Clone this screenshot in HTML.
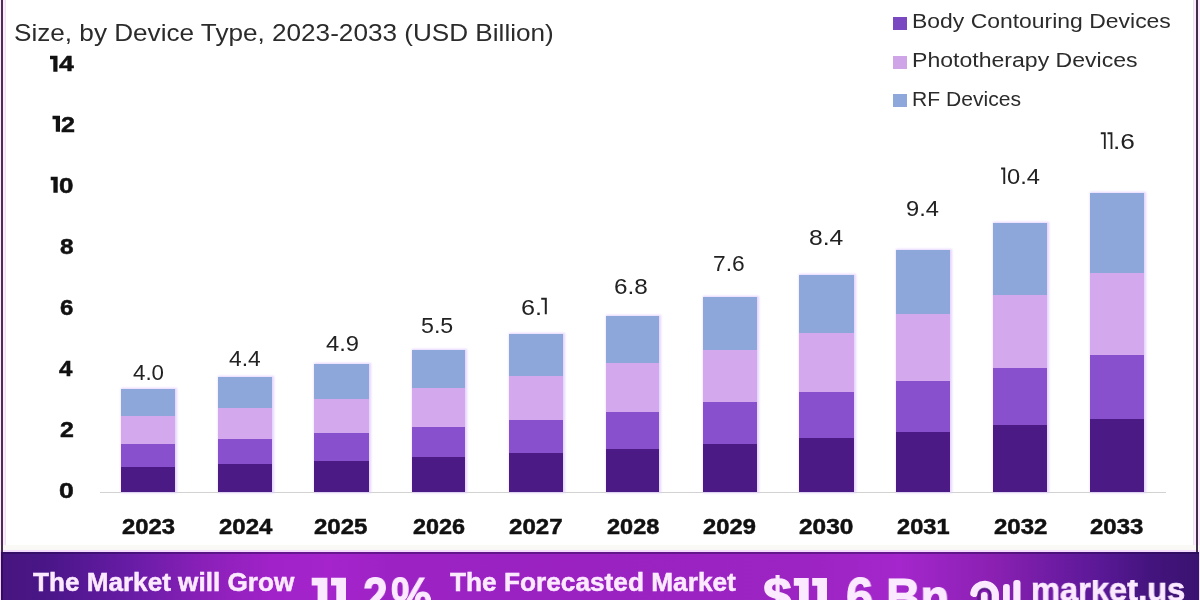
<!DOCTYPE html>
<html><head><meta charset="utf-8"><title>chart</title>
<style>
html,body{margin:0;padding:0;}
body{width:1200px;height:600px;overflow:hidden;background:#fff;position:relative;font-family:"Liberation Sans",sans-serif;}
.a{position:absolute;}
.bar{position:absolute;box-shadow:1px 0 2px 1px rgba(226,208,255,0.9);}
.tb{-webkit-text-stroke:0.5px currentColor;}
.t{position:absolute;white-space:nowrap;line-height:1;transform-origin:0 0;will-change:transform;}
.sw{position:absolute;width:14.2px;height:13.4px;left:893.2px;}
</style></head><body>
<div class="a" style="left:0;top:0;width:5px;height:552px;background:#fdeaff;"></div>
<div class="a" style="left:5px;top:0;width:1px;height:550px;background:#ebe4ec;"></div>
<div class="a" style="left:1194px;top:0;width:6px;height:552px;background:#fdeaff;"></div>
<div class="a" style="left:1193px;top:0;width:1px;height:550px;background:#ebe4ec;"></div>
<div class="a" style="left:0;top:545px;width:1200px;height:5px;background:#fbf9f6;"></div>
<div class="a" style="left:0;top:550px;width:1200px;height:2px;background:#f5dcff;"></div>
<div class="a" style="left:1px;top:0;width:2px;height:552px;background:#4a3052;"></div>
<div class="a" style="left:1196px;top:0;width:2px;height:552px;background:#40304a;"></div>
<div class="a" style="left:100px;top:491.5px;width:1066px;height:1.6px;background:#d2d2d2;"></div>
<div class="bar" style="left:120.7px;top:389.0px;width:54.3px;height:102.8px;background:#4b1a85;"><div class="a" style="left:0;top:0;width:100%;height:27.0px;background:#8da7db;"></div><div class="a" style="left:0;top:27.0px;width:100%;height:28.3px;background:#d3a8ec;"></div><div class="a" style="left:0;top:55.3px;width:100%;height:22.4px;background:#8850cc;"></div></div>
<div class="bar" style="left:217.7px;top:377.3px;width:54.6px;height:114.5px;background:#4b1a85;"><div class="a" style="left:0;top:0;width:100%;height:30.4px;background:#8da7db;"></div><div class="a" style="left:0;top:30.4px;width:100%;height:31.6px;background:#d3a8ec;"></div><div class="a" style="left:0;top:62.0px;width:100%;height:24.7px;background:#8850cc;"></div></div>
<div class="bar" style="left:314.0px;top:364.3px;width:54.7px;height:127.5px;background:#4b1a85;"><div class="a" style="left:0;top:0;width:100%;height:34.7px;background:#8da7db;"></div><div class="a" style="left:0;top:34.7px;width:100%;height:34.3px;background:#d3a8ec;"></div><div class="a" style="left:0;top:69.0px;width:100%;height:27.7px;background:#8850cc;"></div></div>
<div class="bar" style="left:411.7px;top:350.0px;width:53.3px;height:141.8px;background:#4b1a85;"><div class="a" style="left:0;top:0;width:100%;height:37.7px;background:#8da7db;"></div><div class="a" style="left:0;top:37.7px;width:100%;height:39.0px;background:#d3a8ec;"></div><div class="a" style="left:0;top:76.7px;width:100%;height:30.6px;background:#8850cc;"></div></div>
<div class="bar" style="left:509.0px;top:334.0px;width:53.7px;height:157.8px;background:#4b1a85;"><div class="a" style="left:0;top:0;width:100%;height:42.0px;background:#8da7db;"></div><div class="a" style="left:0;top:42.0px;width:100%;height:44.0px;background:#d3a8ec;"></div><div class="a" style="left:0;top:86.0px;width:100%;height:33.3px;background:#8850cc;"></div></div>
<div class="bar" style="left:605.7px;top:316.0px;width:53.6px;height:175.8px;background:#4b1a85;"><div class="a" style="left:0;top:0;width:100%;height:46.7px;background:#8da7db;"></div><div class="a" style="left:0;top:46.7px;width:100%;height:49.0px;background:#d3a8ec;"></div><div class="a" style="left:0;top:95.7px;width:100%;height:37.3px;background:#8850cc;"></div></div>
<div class="bar" style="left:702.5px;top:296.5px;width:54.1px;height:195.3px;background:#4b1a85;"><div class="a" style="left:0;top:0;width:100%;height:53.1px;background:#8da7db;"></div><div class="a" style="left:0;top:53.1px;width:100%;height:52.1px;background:#d3a8ec;"></div><div class="a" style="left:0;top:105.2px;width:100%;height:42.6px;background:#8850cc;"></div></div>
<div class="bar" style="left:799.0px;top:275.0px;width:54.5px;height:216.8px;background:#4b1a85;"><div class="a" style="left:0;top:0;width:100%;height:57.5px;background:#8da7db;"></div><div class="a" style="left:0;top:57.5px;width:100%;height:59.0px;background:#d3a8ec;"></div><div class="a" style="left:0;top:116.5px;width:100%;height:46.5px;background:#8850cc;"></div></div>
<div class="bar" style="left:896.3px;top:250.2px;width:53.8px;height:241.6px;background:#4b1a85;"><div class="a" style="left:0;top:0;width:100%;height:63.8px;background:#8da7db;"></div><div class="a" style="left:0;top:63.8px;width:100%;height:66.9px;background:#d3a8ec;"></div><div class="a" style="left:0;top:130.7px;width:100%;height:51.4px;background:#8850cc;"></div></div>
<div class="bar" style="left:992.7px;top:222.7px;width:54.6px;height:269.1px;background:#4b1a85;"><div class="a" style="left:0;top:0;width:100%;height:72.8px;background:#8da7db;"></div><div class="a" style="left:0;top:72.8px;width:100%;height:72.5px;background:#d3a8ec;"></div><div class="a" style="left:0;top:145.3px;width:100%;height:57.3px;background:#8850cc;"></div></div>
<div class="bar" style="left:1089.5px;top:192.8px;width:54.5px;height:299.0px;background:#4b1a85;"><div class="a" style="left:0;top:0;width:100%;height:80.5px;background:#8da7db;"></div><div class="a" style="left:0;top:80.5px;width:100%;height:81.4px;background:#d3a8ec;"></div><div class="a" style="left:0;top:161.9px;width:100%;height:64.0px;background:#8850cc;"></div></div>
<div class="sw" style="top:17.0px;background:#7a48c0;"></div>
<div class="sw" style="top:55.5px;background:#cfa5e8;"></div>
<div class="sw" style="top:93.7px;background:#8fa8dc;"></div>
<div class="a" style="left:0;top:552px;width:1200px;height:48px;background:linear-gradient(90deg,#47157e 0%,#4a1688 4%,#681ca6 11%,#8a20b8 17%,#a022c8 22.5%,#a524cc 27.5%,#9c22c4 33%,#9a22c0 50%,#9c24c2 67%,#a426cc 75%,#8a20b2 83%,#701ca4 87.5%,#5a1896 91.7%,#44147e 95.8%,#3a1270 100%);"></div>
<div class="a" style="left:0;top:552px;width:1200px;height:1.5px;background:rgba(30,8,70,0.45);"></div>
<div class="a" style="left:0;top:552px;width:1px;height:48px;background:#f8ccff;"></div>
<div class="a" style="left:1px;top:552px;width:2px;height:48px;background:#2e0e58;"></div>
<div class="a" style="left:1199px;top:552px;width:1px;height:48px;background:#eedcff;"></div>
<svg class="a" style="left:0;top:570px;" width="1200" height="30" viewBox="0 570 1200 30"><g fill="#fbeaff"><polygon points="311.7,577.8 327.4,577.8 327.4,601 317.6,601 317.6,585.5999999999999 311.7,585.5999999999999"/><polygon points="331.0,577.8 346.0,577.8 346.0,601 336.3,601 336.3,585.5999999999999 331.0,585.5999999999999"/><polygon points="793.8,578.0 808.7,578.0 808.7,601 799.0,601 799.0,585.8 793.8,585.8"/><polygon points="812.2,578.0 827.0,578.0 827.0,601 817.3,601 817.3,585.8 812.2,585.8"/></g></svg>
<svg class="a" style="left:0;top:0;" width="1200" height="520" viewBox="0 0 1200 520"><polygon fill="#111" points="50.0,55.8 57.5,55.8 57.5,71.7 53.3,71.7 53.3,59.3 50.0,59.3"/><polygon fill="#111" points="52.5,115.8 60.0,115.8 60.0,131.8 55.8,131.8 55.8,119.3 52.5,119.3"/><polygon fill="#111" points="50.7,176.7 57.7,176.7 57.7,192.7 53.4,192.7 53.4,180.2 50.7,180.2"/><polygon fill="#222" points="541.2,297.8 546.8,297.8 546.8,314.3 544.8,314.3 544.8,299.7 541.2,299.7"/><polygon fill="#222" points="1001.1,167.6 1005.2,167.6 1005.2,184.0 1003.3,184.0 1003.3,169.5 1001.1,169.5"/><polygon fill="#222" points="1100.8,132.3 1105.7,132.3 1105.7,148.9 1103.9,148.9 1103.9,134.20000000000002 1100.8,134.20000000000002"/><polygon fill="#222" points="1107.5,132.3 1112.4,132.3 1112.4,148.9 1110.6,148.9 1110.6,134.20000000000002 1107.5,134.20000000000002"/></svg>
<svg class="a" style="left:960px;top:570px;" width="70" height="30" viewBox="960 570 70 30"><path d="M974.0 593.2 A10.7 10.7 0 0 1 995.2 594.6 L995.2 602" fill="none" stroke="#fbeaff" stroke-width="7.5" stroke-linecap="round"/><path d="M978.6 602 L978.6 594.6 A5.9 5.9 0 0 1 990.4 594.6 L990.4 602" fill="none" stroke="rgba(60,16,110,0.55)" stroke-width="2.6"/><rect x="981" y="592" width="6.6" height="12" rx="3.2" fill="#fbeaff"/><rect x="1003" y="584" width="6.8" height="20" rx="3" fill="#fbeaff"/><rect x="1013.3" y="580" width="7.2" height="24" rx="3" fill="#fbeaff"/></svg>
<div class="t" id="title" style="left:13.93px;top:21.01px;font-size:24.5px;font-weight:normal;color:#2b2b2b;transform:scaleX(1.0665);">Size, by Device Type, 2023-2033 (USD Billion)</div>
<div class="t" id="leg1" style="left:912.24px;top:10.77px;font-size:20px;font-weight:normal;color:#2b2b2b;transform:scaleX(1.1469);">Body Contouring Devices</div>
<div class="t" id="leg2" style="left:912.23px;top:49.87px;font-size:20px;font-weight:normal;color:#2b2b2b;transform:scaleX(1.1528);">Phototherapy Devices</div>
<div class="t" id="leg3" style="left:912.40px;top:88.57px;font-size:20px;font-weight:normal;color:#2b2b2b;transform:scaleX(1.0545);">RF Devices</div>
<div class="t tb" id="y8" style="left:60.00px;top:236.10px;font-size:22.5px;font-weight:bold;color:#111;transform:scaleX(1.0833);">8</div>
<div class="t tb" id="y6" style="left:59.79px;top:297.00px;font-size:22.5px;font-weight:bold;color:#111;transform:scaleX(1.0667);">6</div>
<div class="t tb" id="y4" style="left:58.59px;top:357.90px;font-size:22.5px;font-weight:bold;color:#111;transform:scaleX(1.0692);">4</div>
<div class="t tb" id="y2" style="left:60.37px;top:418.80px;font-size:22.5px;font-weight:bold;color:#111;transform:scaleX(1.1083);">2</div>
<div class="t tb" id="y0" style="left:58.82px;top:479.70px;font-size:22.5px;font-weight:bold;color:#111;transform:scaleX(1.1818);">0</div>
<div class="t tb" id="y14" style="left:58.66px;top:53.40px;font-size:22.5px;font-weight:bold;color:#111;transform:scaleX(1.1846);">4</div>
<div class="t tb" id="y12" style="left:60.58px;top:113.70px;font-size:22.5px;font-weight:bold;color:#111;transform:scaleX(1.1167);">2</div>
<div class="t tb" id="y10" style="left:59.49px;top:174.60px;font-size:22.5px;font-weight:bold;color:#111;transform:scaleX(1.1545);">0</div>
<div class="t" id="v0" style="left:132.60px;top:361.68px;font-size:22px;font-weight:normal;color:#222;transform:scaleX(1.0133);">4.0</div>
<div class="t" id="v1" style="left:229.00px;top:348.38px;font-size:22px;font-weight:normal;color:#222;transform:scaleX(1.0333);">4.4</div>
<div class="t" id="v2" style="left:326.00px;top:333.08px;font-size:22px;font-weight:normal;color:#222;transform:scaleX(1.0793);">4.9</div>
<div class="t" id="v3" style="left:421.33px;top:315.08px;font-size:22px;font-weight:normal;color:#222;transform:scaleX(1.0552);">5.5</div>
<div class="t" id="v4" style="left:521.42px;top:296.88px;font-size:22px;font-weight:normal;color:#222;transform:scaleX(1.1467);">6.</div>
<div class="t" id="v5" style="left:614.27px;top:275.68px;font-size:22px;font-weight:normal;color:#222;transform:scaleX(1.1034);">6.8</div>
<div class="t" id="v6" style="left:712.58px;top:253.38px;font-size:22px;font-weight:normal;color:#222;transform:scaleX(1.0345);">7.6</div>
<div class="t" id="v7" style="left:809.24px;top:226.68px;font-size:22px;font-weight:normal;color:#222;transform:scaleX(1.1241);">8.4</div>
<div class="t" id="v8" style="left:905.88px;top:197.88px;font-size:22px;font-weight:normal;color:#222;transform:scaleX(1.0776);">9.4</div>
<div class="t" id="v9" style="left:1007.30px;top:166.48px;font-size:22px;font-weight:normal;color:#222;transform:scaleX(1.0759);">0.4</div>
<div class="t" id="v10" style="left:1112.61px;top:131.28px;font-size:22px;font-weight:normal;color:#222;transform:scaleX(1.1933);">.6</div>
<div class="t tb" id="x0" style="left:121.62px;top:516.20px;font-size:22.5px;font-weight:bold;color:#111;transform:scaleX(1.0600);">2023</div>
<div class="t tb" id="x1" style="left:218.62px;top:516.20px;font-size:22.5px;font-weight:bold;color:#111;transform:scaleX(1.0660);">2024</div>
<div class="t tb" id="x2" style="left:314.17px;top:516.20px;font-size:22.5px;font-weight:bold;color:#111;transform:scaleX(1.0680);">2025</div>
<div class="t tb" id="x3" style="left:412.61px;top:516.20px;font-size:22.5px;font-weight:bold;color:#111;transform:scaleX(1.0400);">2026</div>
<div class="t tb" id="x4" style="left:509.17px;top:516.20px;font-size:22.5px;font-weight:bold;color:#111;transform:scaleX(1.0694);">2027</div>
<div class="t tb" id="x5" style="left:606.61px;top:516.20px;font-size:22.5px;font-weight:bold;color:#111;transform:scaleX(1.0460);">2028</div>
<div class="t tb" id="x6" style="left:703.21px;top:516.20px;font-size:22.5px;font-weight:bold;color:#111;transform:scaleX(1.0560);">2029</div>
<div class="t tb" id="x7" style="left:799.17px;top:516.20px;font-size:22.5px;font-weight:bold;color:#111;transform:scaleX(1.0857);">2030</div>
<div class="t tb" id="x8" style="left:896.79px;top:516.20px;font-size:22.5px;font-weight:bold;color:#111;transform:scaleX(1.0500);">2031</div>
<div class="t tb" id="x9" style="left:993.62px;top:516.20px;font-size:22.5px;font-weight:bold;color:#111;transform:scaleX(1.0660);">2032</div>
<div class="t tb" id="x10" style="left:1090.21px;top:516.20px;font-size:22.5px;font-weight:bold;color:#111;transform:scaleX(1.0640);">2033</div>
<div class="t tb" id="b1" style="left:33.49px;top:569.50px;font-size:25.4px;font-weight:bold;color:#fbeaff;transform:scaleX(1.0285);">The Market will Grow</div>
<div class="t tb" id="b2b" style="-webkit-text-stroke-width:1.2px;left:363.15px;top:569.63px;font-size:52px;font-weight:bold;color:#fbeaff;transform:scaleX(0.8519);">2</div>
<div class="t tb" id="b2c" style="-webkit-text-stroke-width:1.0px;left:391.11px;top:569.63px;font-size:52px;font-weight:bold;color:#fbeaff;transform:scaleX(0.8864);">%</div>
<div class="t tb" id="b3" style="left:450.00px;top:569.50px;font-size:25.4px;font-weight:bold;color:#fbeaff;transform:scaleX(1.0334);">The Forecasted Market</div>
<div class="t tb" id="b4a" style="-webkit-text-stroke-width:1.2px;left:762.60px;top:569.63px;font-size:52px;font-weight:bold;color:#fbeaff;transform:scaleX(0.9966);">$</div>
<div class="t tb" id="b4b" style="-webkit-text-stroke-width:1.2px;left:846.45px;top:569.63px;font-size:52px;font-weight:bold;color:#fbeaff;transform:scaleX(0.9407);">6</div>
<div class="t tb" id="b4c" style="-webkit-text-stroke-width:1.2px;left:886.02px;top:571.13px;font-size:52px;font-weight:bold;color:#fbeaff;transform:scaleX(0.9156);">Bn</div>
<div class="t tb" id="b5" style="-webkit-text-stroke-width:0.7px;clip-path:inset(7.74px 0 0 0);left:1031.44px;top:572.56px;font-size:33.3px;font-weight:bold;color:#fbeaff;transform:scaleX(0.9805);">market.us</div>
</body></html>
